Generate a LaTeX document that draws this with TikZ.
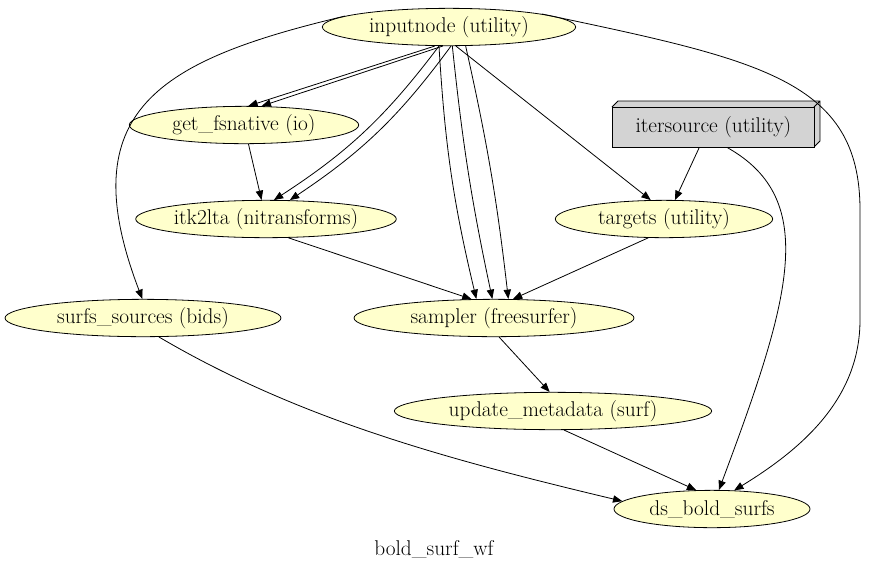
\documentclass[tikz,border=0pt]{standalone}
\usepackage{tikz}
\usetikzlibrary{arrows.meta,shapes.geometric}
\definecolor{nodefill}{HTML}{FFFFCC}
\definecolor{boxfill}{HTML}{D3D3D3}
\tikzset{
  wfnode/.style={ellipse,draw,fill=nodefill,inner sep=0pt,minimum height=28pt,font=\fontsize{16}{18}\selectfont},
  wfbox/.style={rectangle,draw,fill=boxfill,inner sep=0pt,minimum height=28pt,font=\fontsize{16}{18}\selectfont},
  edge/.style={-{Triangle[length=7pt,width=5.5pt]}},
}
\begin{document}
\begin{tikzpicture}[x=0.75pt,y=-0.75pt,line width=0.6pt]
  \useasboundingbox (0,0) rectangle (869,569);
  % Knoten
  \node[wfnode,minimum width=190pt] (inputnode) at (449,27) {inputnode (utility)};
  \node[wfnode,minimum width=172pt] (getfs) at (244,125) {get\_fsnative (io)};
  % 3D-Box
  \fill[boxfill] (612,107) -- (618,101) -- (820,101) -- (820,141) -- (814,147) -- (612,147) -- cycle;
  \draw (612,107) -- (618,101) -- (820,101) -- (820,141) -- (814,147) (814,107) -- (820,101);
  \node[wfbox,minimum width=151.5pt,minimum height=30pt,anchor=north west] (itersource) at (612,107) {itersource (utility)};
  \node[wfnode,minimum width=190pt] (itk) at (266,219) {itk2lta (nitransforms)};
  \node[wfnode,minimum width=163pt] (targets) at (664,219) {targets (utility)};
  \node[wfnode,minimum width=207pt] (surfs) at (143,318) {surfs\_sources (bids)};
  \node[wfnode,minimum width=210pt] (sampler) at (494,318) {sampler (freesurfer)};
  \node[wfnode,minimum width=238pt] (update) at (553,411) {update\_metadata (surf)};
  \node[wfnode,minimum width=147pt] (ds) at (712,509) {ds\_bold\_surfs};
  \node[font=\fontsize{16}{18}\selectfont] (title) at (434,549) {bold\_surf\_wf};
  % Kanten
  \draw[edge] ([xshift=-3]inputnode.-118) -- ([xshift=-5]getfs.60);
  \draw[edge] ([xshift=3]inputnode.-118) -- ([xshift=5]getfs.60);
  \draw[edge] ([xshift=-5]inputnode.-100) to[bend left=10] ([xshift=-6]itk.50);
  \draw[edge] ([xshift=4]inputnode.-100) to[bend left=10] ([xshift=6]itk.50);
  \draw[edge] ([xshift=-7]inputnode.-92) to[bend right=5] ([xshift=-12]sampler.95);
  \draw[edge] ([xshift=3]inputnode.-92) to[bend right=3] (sampler.95);
  \draw[edge] ([xshift=13]inputnode.-92) to[bend left=3] ([xshift=12]sampler.95);
  \draw[edge] (inputnode.-70) -- (targets.125);
  \draw[edge] (inputnode.174) .. controls (160,60) and (70,110) .. (surfs.92);
  \coordinate (rside) at (860,210);
  \draw[edge] (inputnode.8) .. controls (760,60) and (860,80) .. (rside) -- (860,320) .. controls (860,400) and (800,450) .. (ds.40);
  \draw[edge] (getfs) -- (itk);
  \draw[edge] (itersource.-125) -- (targets.60);
  \draw[edge] (itersource.-55) .. controls (820,200) and (790,300) .. (ds.70);
  \draw[edge] (itk.-40) -- (sampler.140);
  \draw[edge] (targets.-130) -- (sampler.45);
  \draw[edge] (sampler.-75) -- (update.100);
  \draw[edge] (update.-60) -- (ds.130);
  \draw[edge] (surfs.-50) .. controls (300,420) and (450,460) .. (ds.175);
\end{tikzpicture}
\end{document}
